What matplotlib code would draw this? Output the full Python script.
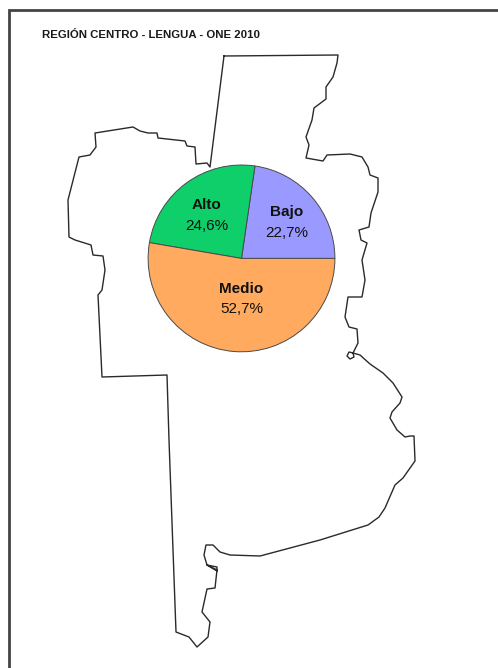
import matplotlib
matplotlib.use("Agg")
import matplotlib.pyplot as plt

W, H = 498, 668
TITLE = "REGIÓN CENTRO - LENGUA - ONE 2010"
categories = ["Bajo", "Alto", "Medio"]
values = [22.7, 24.6, 52.7]
value_labels = ["22,7%", "24,6%", "52,7%"]
colors = ["#9999FF", "#0FCF6B", "#FFAA5E"]

outline_x = [224, 338, 337, 333, 326, 326, 314, 312, 306, 309, 306, 323, 327, 350, 362, 368, 370, 378, 378,
             371, 369, 359, 361, 367, 362, 365, 362, 348, 345, 349, 357, 358, 353, 349, 347, 350, 354, 353, 360,
             370, 383, 393, 402, 400, 392, 390, 397, 405, 410, 414, 415, 403, 395, 385, 379, 368, 320, 260, 230,
             220, 213, 206, 204, 207, 217, 217, 207, 217, 215, 207, 202, 210, 208, 197, 189, 176, 169, 167, 102,
             98, 102, 105, 103, 93, 91, 75, 69, 68, 79, 90, 96, 95, 133, 140, 148, 157, 158, 185, 187, 195, 196,
             207, 210, 224]
outline_y = [56, 55, 63, 77, 87, 99, 108, 120, 137, 145, 158, 161, 155, 154, 157, 167, 175, 178, 192,
             213, 227, 230, 240, 243, 260, 280, 297, 297, 317, 327, 329, 343, 353, 352, 356, 359, 357, 353, 355,
             364, 373, 383, 397, 403, 412, 418, 430, 437, 436, 436, 461, 478, 485, 508, 517, 525, 540, 556, 555,
             552, 545, 545, 555, 565, 567, 571, 565, 570, 588, 589, 612, 622, 637, 647, 637, 632, 440, 375, 377,
             295, 290, 270, 256, 255, 245, 240, 237, 200, 157, 155, 147, 133, 127, 131, 133, 133, 138, 141, 146,
             147, 164, 163, 167, 56]

fig = plt.figure(figsize=(W / 100, H / 100), dpi=100, facecolor="white")
ax = fig.add_axes([0, 0, 1, 1])
ax.set_xlim(0, W)
ax.set_ylim(H, 0)
ax.axis("off")

ax.plot(outline_x, outline_y, color="#2a2a2a", lw=1.0, solid_joinstyle="round")
ax.plot([9, 9, W], [H, 10, 10], color="#444444", lw=2.0, solid_joinstyle="miter")
ax.text(42, 35, TITLE, fontsize=8.2, fontweight="bold", family="Liberation Sans",
        color="#1a1a1a", va="center", ha="left")

cx, cy, r = 241.5, 258.4, 93.4
pie_ax = fig.add_axes([(cx - r) / W, 1 - (cy + r) / H, 2 * r / W, 2 * r / H])
pie_ax.pie(values, colors=colors, startangle=0, counterclock=True, radius=1,
           wedgeprops=dict(edgecolor="#4a4a4a", linewidth=0.7))
pie_ax.set_xlim(-1, 1)
pie_ax.set_ylim(-1, 1)

name_pos = [(287, 212), (207, 205), (241.5, 289)]
value_pos = [(287, 233), (207, 226), (241.5, 309)]
for name, val, np_, vp in zip(categories, value_labels, name_pos, value_pos):
    ax.text(np_[0], np_[1], name, fontsize=11, fontweight="bold", family="Liberation Sans",
            color="#111111", ha="center", va="center", zorder=5)
    ax.text(vp[0], vp[1], val, fontsize=11, family="Liberation Sans",
            color="#111111", ha="center", va="center", zorder=5)
pie_ax.set_zorder(1)
ax.set_zorder(2)
ax.patch.set_visible(False)

fig.savefig("out.png", dpi=100, facecolor="white")
